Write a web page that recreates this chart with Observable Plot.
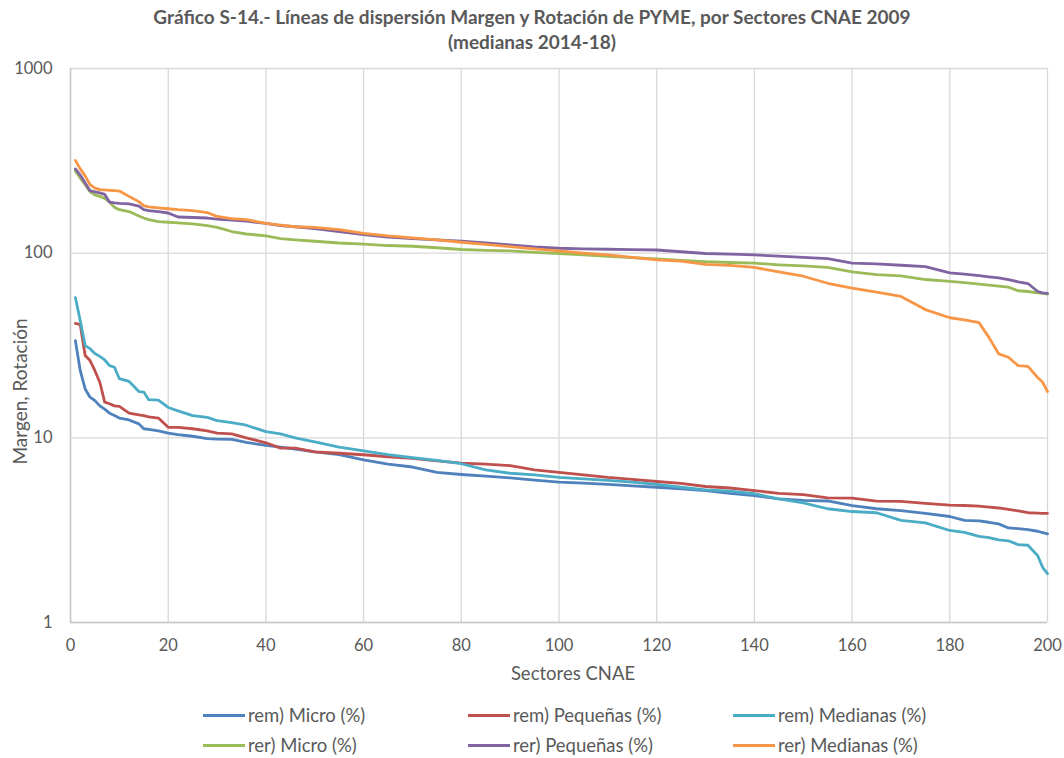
<!DOCTYPE html>
<html>
<head>
<meta charset="utf-8">
<script src="https://cdn.jsdelivr.net/npm/d3@7"></script>
<script src="https://cdn.jsdelivr.net/npm/@observablehq/plot@0.6"></script>
<style>
  html, body { margin: 0; padding: 0; background: #fff; }
  body { width: 1064px; height: 758px; overflow: hidden; font-family: Lato, "Open Sans", sans-serif; color: #595959; }
  #title { height: 50px; text-align: center; font-weight: bold; font-size: 19px; line-height: 25px; padding-top: 4px; box-sizing: border-box; white-space: nowrap; }
  #legend { position: relative; height: 66px; font-size: 18.5px; }
  .item { position: absolute; display: flex; align-items: center; height: 22px; white-space: nowrap; }
  .swatch { width: 42px; height: 3px; margin-right: 3px; }
</style>
</head>
<body>
<div id="title">Gráfico S-14.- Líneas de dispersión Margen y Rotación de PYME, por Sectores CNAE 2009<br>(medianas 2014-18)</div>
<div id="chart"></div>
<div id="legend"></div>
<script>
const sectores = [1,2,3,4,5,6,7,8,9,10,12,14,15,16,18,20,22,25,28,30,33,36,40,43,46,50,55,60,65,70,75,80,85,90,95,100,105,110,115,120,125,130,135,140,145,150,155,160,165,170,175,180,183,186,188,190,192,194,196,198,199,200];

const remMicro = [33.6,23.1,18.4,16.6,15.9,14.9,14.3,13.6,13.2,12.8,12.5,11.9,11.2,11.1,10.9,10.6,10.4,10.2,9.9,9.85,9.8,9.45,9.1,8.9,8.7,8.4,8.1,7.6,7.2,6.95,6.5,6.33,6.2,6.07,5.9,5.75,5.68,5.6,5.5,5.4,5.3,5.18,5.0,4.87,4.67,4.58,4.55,4.3,4.13,4.04,3.9,3.75,3.57,3.55,3.49,3.42,3.25,3.22,3.18,3.12,3.07,3.02];
const remPequenas = [41.7,41,27.9,26.2,23.1,20.0,15.6,15.3,14.9,14.8,13.6,13.3,13.2,13.0,12.8,11.4,11.4,11.2,10.9,10.6,10.5,10.0,9.4,8.8,8.8,8.4,8.25,8.1,7.9,7.75,7.5,7.3,7.2,7.07,6.7,6.5,6.3,6.1,5.95,5.8,5.67,5.45,5.35,5.18,5.0,4.92,4.73,4.72,4.54,4.53,4.42,4.32,4.3,4.27,4.22,4.17,4.1,4.02,3.93,3.91,3.9,3.9];
const remMedianas = [57.5,43,31.6,30.4,28.6,27.6,26.4,24.6,24.1,20.9,20.2,17.8,17.7,16.1,16.0,14.6,14.0,13.2,12.9,12.4,12.1,11.7,10.8,10.5,10.0,9.5,8.9,8.5,8.1,7.8,7.55,7.24,6.7,6.43,6.3,6.1,6.0,5.88,5.75,5.6,5.4,5.23,5.15,4.98,4.67,4.45,4.13,3.99,3.93,3.57,3.46,3.15,3.08,2.93,2.88,2.8,2.77,2.64,2.62,2.3,1.99,1.84];
const rerMicro = [279,255,235,215,207,203,198,189,177,172,168,159,155,152,148,147,146,144,141,138,131,127,124,120,118,116,113.5,112,110,109,107,104.7,103.5,102.8,101,99.6,98,96.2,94.5,93.0,91.5,89.9,89,88.3,86.5,85.3,83.7,79.1,76.5,75.4,72.0,70.3,69.2,68,67.2,66.3,65.5,62.6,62,61,60.5,60];
const rerPequenas = [286,265,240,218,215,212,208,189,187,186,185,180,172,170,168,165,157,156,155,153,151,149,145,141,139,136,131,126,122,120,118,116.2,113.5,110.9,108,106.3,105.5,105,104.5,104,101.8,99.6,98.8,97.9,96.3,94.8,93.5,88.3,87.6,86,84.5,78.2,77,75.5,74.5,73.5,72,70,68.5,62,61,60.5];
const rerMedianas = [318,286,262,235,225,221,220,219,218,217,203,190,181,178,176,174,172,170,166,158,154,152,145,142,139,138,134,128,124,121,118,114.6,111.5,108.6,105.5,102.8,100,97.9,95,92,90.5,87,85.8,83.7,79.1,75,68.7,64.6,61.6,58.3,49.5,44.7,43.5,42,35,28.5,27.3,24.6,24.4,21.2,20,17.8];

const seriesNames = ["rem) Micro (%)","rem) Pequeñas (%)","rem) Medianas (%)","rer) Micro (%)","rer) Pequeñas (%)","rer) Medianas (%)"];
const seriesColors = ["#4F81BD","#C0504D","#4BACC6","#9BBB59","#8064A2","#F79646"];
const seriesValues = [remMicro, remPequenas, remMedianas, rerMicro, rerPequenas, rerMedianas];
const xTicks = [0,20,40,60,80,100,120,140,160,180,200];
const yTicks = [1,10,100,1000];

const data = seriesNames.flatMap((name, i) => sectores.map((x, j) => ({serie: name, x, y: seriesValues[i][j]})));

const chart = Plot.plot({
  width: 1064,
  height: 642,
  marginLeft: 70,
  marginRight: 17,
  marginTop: 18,
  marginBottom: 70,
  style: {fontFamily: "Lato, 'Open Sans', sans-serif", fontSize: "16.5px", color: "#595959", background: "#fff", overflow: "visible"},
  x: {domain: [0, 200], ticks: xTicks, label: null},
  y: {type: "log", domain: [1, 1000], ticks: yTicks, tickFormat: d => String(d), label: null},
  color: {domain: seriesNames, range: seriesColors},
  marks: [
    Plot.gridX(xTicks, {stroke: "#d9d9d9", strokeOpacity: 1, strokeWidth: 1.3}),
    Plot.gridY(yTicks, {stroke: "#d9d9d9", strokeOpacity: 1, strokeWidth: 1.3}),
    Plot.ruleX([0], {stroke: "#c8c8c8", strokeWidth: 1.5}),
    Plot.ruleY([1], {stroke: "#c8c8c8", strokeWidth: 1.5}),
    Plot.axisX({ticks: xTicks, tickSize: 0, tickPadding: 17, label: null}),
    Plot.axisY({ticks: yTicks, tickSize: 0, tickPadding: 18, tickFormat: d => String(d), label: null}),
    Plot.line(data, {x: "x", y: "y", z: "serie", stroke: "serie", strokeWidth: 2.8, strokeLinejoin: "round"}),
    Plot.text(["Sectores CNAE"], {frameAnchor: "bottom", dy: 57, dx: 14, fontSize: 18.5, fill: "#595959"}),
    Plot.text(["Margen, Rotación"], {frameAnchor: "left", textAnchor: "middle", dx: -50, dy: 46, rotate: -90, fontSize: 19, fill: "#595959"})
  ]
});
document.getElementById("chart").appendChild(chart);

const legend = document.getElementById("legend");
const colX = [203, 468, 733];
const rowY = [12, 42];
seriesNames.forEach((name, i) => {
  const it = document.createElement("div");
  it.className = "item";
  it.style.left = colX[i % 3] + "px";
  it.style.top = rowY[Math.floor(i / 3)] + "px";
  const sw = document.createElement("span");
  sw.className = "swatch";
  sw.style.background = seriesColors[i];
  const tx = document.createElement("span");
  tx.textContent = name;
  it.appendChild(sw);
  it.appendChild(tx);
  legend.appendChild(it);
});
</script>
</body>
</html>
